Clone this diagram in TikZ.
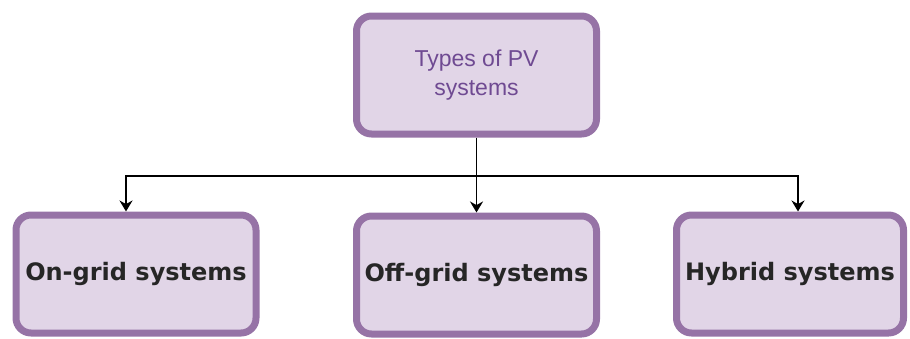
\documentclass[tikz,border=0pt]{standalone}
\usepackage{fontspec}
\setmainfont{Liberation Sans}
\newfontfamily\kindfont{DejaVu Sans}
\usepackage{tikz}
\usetikzlibrary{arrows.meta,calc,positioning}
\definecolor{pvfill}{HTML}{E1D5E7}
\definecolor{pvborder}{HTML}{9673A6}
\definecolor{pvtext}{HTML}{6F4A92}

\begin{document}
\begin{tikzpicture}[
      x=1pt,y=-1pt,
      box/.style={draw=pvborder,line width=7pt,rounded corners=15pt,fill=pvfill,
        minimum width=240pt,minimum height=118pt,align=center,inner sep=2pt},
      root/.style={box,text=pvtext,font=\fontsize{23}{29}\selectfont},
      kind/.style={box,font=\kindfont\bfseries\fontsize{24}{28}\selectfont,text=black!85},
      link/.style={line width=1.6pt,draw=black},
      arrow/.style={link,-{Stealth[length=11pt,width=13pt]}}
    ]
    \useasboundingbox (0,0) rectangle (910,338);
    \node[root] (types) at (476.5,75) {Types of PV\\systems};
    \node[kind] (ongrid) at (136,274) {On-grid systems};
    \node[kind] (offgrid) at (476.5,275) {Off-grid systems};
    \node[kind,minimum width=227pt] (hybrid) at (790,274) {Hybrid systems};
    \coordinate (split) at (476.5,176);

    \draw[link] (types) -- (split);
    \draw[arrow] (split) -| ([xshift=-10pt]ongrid.north);
    \draw[arrow] (split) -- (offgrid);
    \draw[arrow] (split) -| ([xshift=8pt]hybrid.north);
  \end{tikzpicture}
\end{document}
